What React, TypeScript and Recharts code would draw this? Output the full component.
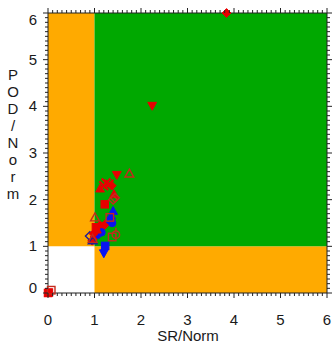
import { ScatterChart, Scatter, XAxis, YAxis, ReferenceArea } from 'recharts';

type Pt = { x: number; y: number };

// axis ticks every 0.1, labelled on whole numbers
const TICKS = Array.from({ length: 61 }, (_, i) => i / 10);
const DOMAIN: [number, number] = [0, 6];
const Y_TITLE = ['P', 'O', 'D', '/', 'N', 'o', 'r', 'm'];

// red, filled markers
const redDiamond: Pt[] = [{ x: 3.84, y: 6.0 }, { x: 1.37, y: 2.3 }, { x: 0.98, y: 1.27 }];
const redDown: Pt[] = [{ x: 2.24, y: 4.01 }, { x: 1.48, y: 2.53 }];
const redUp: Pt[] = [{ x: 1.12, y: 2.24 }, { x: 1.42, y: 2.12 }, { x: 1.05, y: 1.36 }];
const redSquare: Pt[] = [
  { x: 1.22, y: 1.9 }, { x: 1.03, y: 1.41 }, { x: 0.0, y: 0.0 }, { x: 0.02, y: 0.01 },
];
const redCross: Pt[] = [{ x: 1.25, y: 2.36 }, { x: 1.31, y: 2.33 }, { x: 1.2, y: 2.3 }];
const redStreak: Pt[] = [
  { x: 0.95, y: 1.12 }, { x: 1.0, y: 1.2 }, { x: 1.06, y: 1.28 }, { x: 1.12, y: 1.36 },
  { x: 1.18, y: 1.42 }, { x: 1.24, y: 1.48 }, { x: 1.3, y: 1.54 }, { x: 1.12, y: 1.45 },
];

// red, open markers
const redOpenUp: Pt[] = [{ x: 1.75, y: 2.56 }, { x: 1.01, y: 1.62 }, { x: 0.96, y: 1.16 }];
const redOpenDiamond: Pt[] = [{ x: 1.4, y: 2.0 }, { x: 1.44, y: 2.04 }];
const redOpenSquare: Pt[] = [{ x: 1.33, y: 1.62 }, { x: 1.38, y: 1.2 }, { x: 0.07, y: 0.06 }];
const redOpenCircle: Pt[] = [{ x: 1.46, y: 1.25 }];

// blue, filled markers
const blueUp: Pt[] = [{ x: 1.4, y: 1.76 }, { x: 1.36, y: 1.66 }];
const blueCircle: Pt[] = [{ x: 1.38, y: 1.5 }, { x: 1.15, y: 1.3 }, { x: 1.33, y: 1.56 }];
const blueSquare: Pt[] = [{ x: 1.23, y: 1.01 }];
const blueDown: Pt[] = [{ x: 1.2, y: 0.85 }];
const blueDiamond: Pt[] = [{ x: 1.08, y: 1.25 }];

// blue, open markers
const blueOpenDiamond: Pt[] = [{ x: 0.9, y: 1.22 }];
const blueOpenUp: Pt[] = [{ x: 0.96, y: 1.13 }];

const RED = '#e80000';
const RED_DARK = '#c42a1c';
const BLUE = '#0a14f0';
const NAVY = '#1e1e96';
const ORANGE = '#ffaa00';
const GREEN = '#00a800';
const FONT = '"Liberation Sans", Arial, sans-serif';

const isMajor = (v: number) => Math.abs(v - Math.round(v)) < 1e-6;

type Kind = 'diamond' | 'up' | 'down' | 'square' | 'circle' | 'cross';

function marker(kind: Kind, color: string, filled: boolean, r = 4.4) {
  return (props: any) => {
    const { cx, cy } = props;
    const common = {
      fill: filled ? color : 'none',
      stroke: color,
      strokeWidth: filled ? 1 : 1.4,
    };
    switch (kind) {
      case 'diamond':
        return <polygon points={`${cx},${cy - r} ${cx + r},${cy} ${cx},${cy + r} ${cx - r},${cy}`} {...common} />;
      case 'up':
        return <polygon points={`${cx},${cy - r} ${cx + r},${cy + r * 0.8} ${cx - r},${cy + r * 0.8}`} {...common} />;
      case 'down':
        return <polygon points={`${cx},${cy + r} ${cx + r},${cy - r * 0.8} ${cx - r},${cy - r * 0.8}`} {...common} />;
      case 'square':
        return <rect x={cx - r * 0.85} y={cy - r * 0.85} width={r * 1.7} height={r * 1.7} {...common} />;
      case 'circle':
        return (
          <g>
            <circle cx={cx} cy={cy} r={r * 0.85} {...common} />
            {!filled && <line x1={cx} x2={cx} y1={cy - r * 1.6} y2={cy - r * 0.85} stroke={color} strokeWidth={1.4} />}
          </g>
        );
      case 'cross':
      default:
        return (
          <g stroke={color} strokeWidth={2.2}>
            <line x1={cx - r} y1={cy - r} x2={cx + r} y2={cy + r} />
            <line x1={cx - r} y1={cy + r} x2={cx + r} y2={cy - r} />
          </g>
        );
    }
  };
}

function BottomTick({ x, y, payload }: any) {
  const v = payload.value;
  const major = isMajor(v);
  return (
    <g>
      <line x1={x} x2={x} y1={y} y2={y + (major ? 5 : 3)} stroke="#222" />
      {major && (
        <text x={x} y={y + 32} textAnchor="middle" fontSize={15} fontFamily={FONT} fill="#1a1a1a">
          {Math.round(v)}
        </text>
      )}
    </g>
  );
}

function TopTick({ x, y, payload }: any) {
  const major = isMajor(payload.value);
  return <line x1={x} x2={x} y1={y} y2={y - (major ? 5 : 3)} stroke="#222" />;
}

function LeftTick({ x, y, payload }: any) {
  const v = payload.value;
  const major = isMajor(v);
  const r = Math.round(v);
  const shift = r === 6 ? 7 : r === 0 ? -5 : 0;
  return (
    <g>
      <line x1={x} x2={x - (major ? 5 : 3)} y1={y} y2={y} stroke="#222" />
      {major && (
        <text x={x - 11} y={y + 5 + shift} textAnchor="end" fontSize={15} fontFamily={FONT} fill="#1a1a1a">
          {r}
        </text>
      )}
    </g>
  );
}

function RightTick({ x, y, payload }: any) {
  const major = isMajor(payload.value);
  return <line x1={x} x2={x + (major ? 5 : 3)} y1={y} y2={y} stroke="#222" />;
}

const yTitle = () => (
  <text x={13} y={80} textAnchor="middle" fontSize={15} fontFamily={FONT} fill="#1a1a1a">
    {Y_TITLE.map((c, i) => (
      <tspan key={i} x={13} y={80 + i * 17}>{c}</tspan>
    ))}
  </text>
);

const xTitle = () => (
  <text x={188} y={341} textAnchor="middle" fontSize={15} fontFamily={FONT} fill="#1a1a1a">
    SR/Norm
  </text>
);

const series: [Pt[], Kind, string, boolean][] = [
  [redStreak, 'diamond', RED, true],
  [blueOpenDiamond, 'diamond', NAVY, false],
  [blueOpenUp, 'up', NAVY, false],
  [blueDiamond, 'diamond', BLUE, true],
  [blueCircle, 'circle', BLUE, true],
  [blueUp, 'up', BLUE, true],
  [blueSquare, 'square', BLUE, true],
  [blueDown, 'down', BLUE, true],
  [redDiamond, 'diamond', RED, true],
  [redDown, 'down', RED, true],
  [redUp, 'up', RED, true],
  [redSquare, 'square', RED, true],
  [redCross, 'cross', RED, true],
  [redOpenUp, 'up', RED_DARK, false],
  [redOpenDiamond, 'diamond', RED_DARK, false],
  [redOpenSquare, 'square', RED_DARK, false],
  [redOpenCircle, 'circle', RED_DARK, false],
];

export default function App() {
  return (
    <div style={{ position: 'absolute', left: 0, top: 0, background: '#fff' }}>
      <ScatterChart width={333} height={346} margin={{ top: 8, right: 0, bottom: 0, left: 0 }}>
        <ReferenceArea x1={0} x2={1} y1={1} y2={6} fill={ORANGE} fillOpacity={1} />
        <ReferenceArea x1={1} x2={6} y1={0} y2={1} fill={ORANGE} fillOpacity={1} />
        <ReferenceArea x1={1} x2={6} y1={1} y2={6} fill={GREEN} fillOpacity={1} />
        <XAxis
          type="number" dataKey="x" domain={DOMAIN} ticks={TICKS} interval={0}
          height={53} tickSize={0} tickMargin={0}
          tick={<BottomTick />} stroke="#222" label={xTitle}
        />
        <XAxis
          xAxisId="top" orientation="top" type="number" dataKey="x" domain={DOMAIN}
          ticks={TICKS} interval={0} allowDataOverflow height={5} tickSize={0}
          tickMargin={0} tick={<TopTick />} stroke="#222"
        />
        <YAxis
          type="number" dataKey="y" domain={DOMAIN} ticks={TICKS} interval={0}
          width={48} tickSize={0} tickMargin={0}
          tick={<LeftTick />} stroke="#222" label={yTitle}
        />
        <YAxis
          yAxisId="right" orientation="right" type="number" dataKey="y" domain={DOMAIN}
          ticks={TICKS} interval={0} allowDataOverflow width={6} tickSize={0}
          tickMargin={0} tick={<RightTick />} stroke="#222"
        />
        {series.map(([data, kind, color, filled], i) => (
          <Scatter
            key={i}
            data={data}
            shape={marker(kind, color, filled)}
            isAnimationActive={false}
          />
        ))}
      </ScatterChart>
    </div>
  );
}
